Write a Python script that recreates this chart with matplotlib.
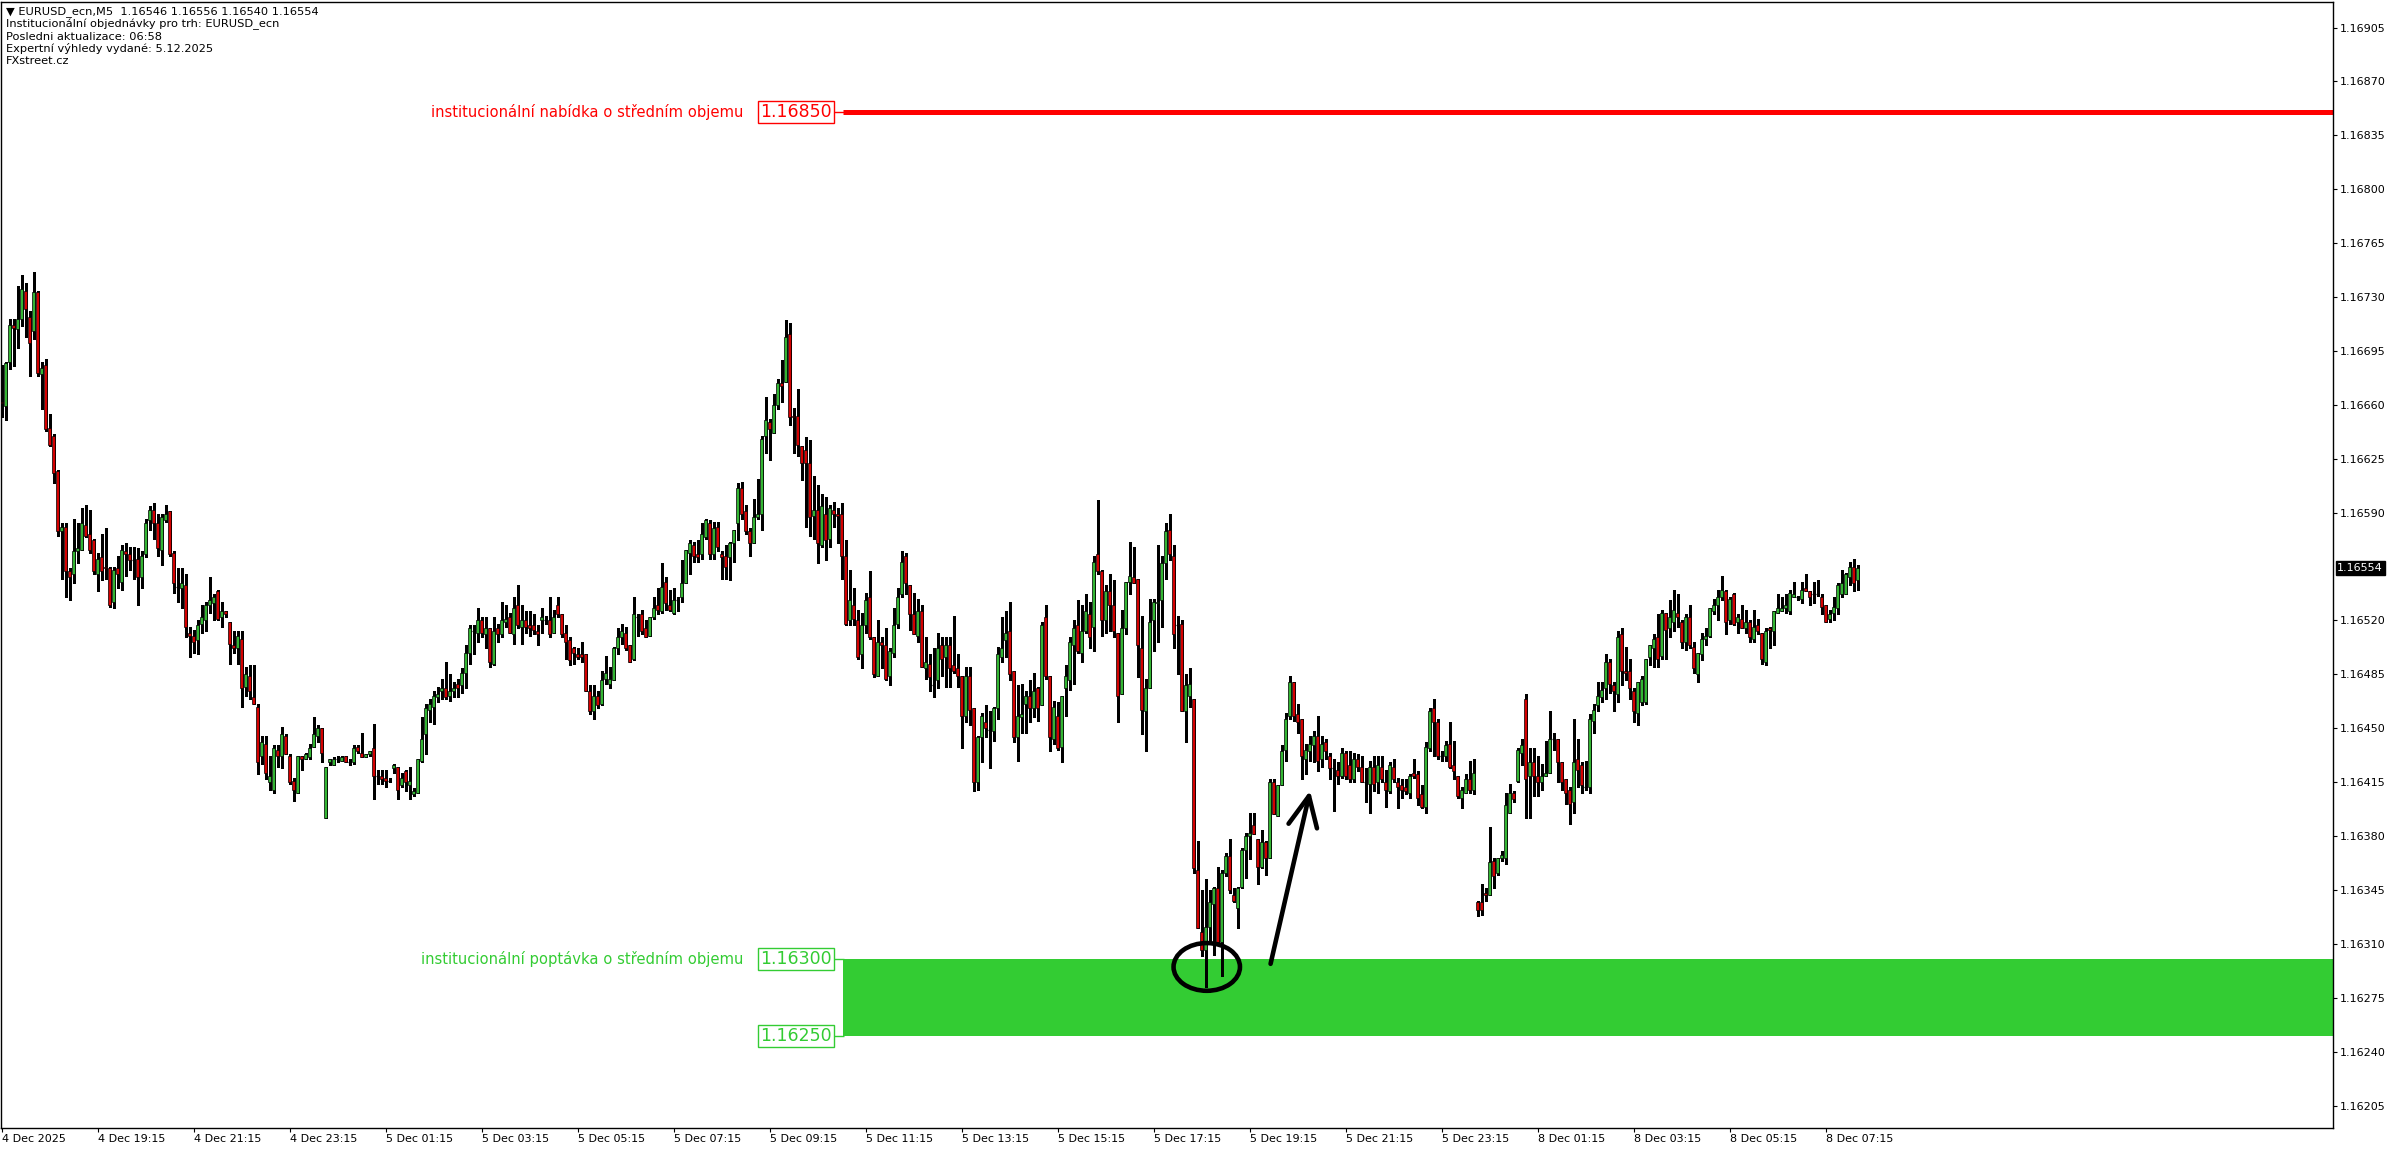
import numpy as np
import matplotlib.pyplot as plt
from matplotlib.patches import Ellipse, Rectangle

# EURUSD_ecn M5 candles, (open, high, low, close) in points above 1.16000
# 4 Dec 17:15 - 23:55
dec4_evening = [
    (662, 686, 652, 661), (659, 688, 650, 687), (688, 716, 683, 712), (712, 716, 685, 710),
    (709, 737, 697, 716), (716, 744, 711, 735), (734, 739, 704, 722), (717, 721, 679, 700),
    (708, 746, 703, 733), (733, 734, 679, 681), (680, 688, 657, 684), (686, 690, 643, 644),
    (645, 654, 633, 634), (640, 641, 609, 616), (617, 618, 575, 578), (578, 583, 547, 581),
    (581, 583, 535, 552), (552, 554, 533, 548), (550, 586, 544, 565), (565, 583, 557, 567),
    (566, 593, 566, 583), (582, 595, 574, 575), (576, 592, 564, 566), (572, 573, 550, 552),
    (550, 564, 539, 560), (561, 576, 546, 552), (555, 580, 547, 554), (554, 555, 529, 530),
    (532, 555, 528, 553), (554, 562, 541, 550), (545, 569, 540, 566), (565, 570, 549, 563),
    (563, 568, 553, 559), (559, 568, 547, 559), (560, 567, 530, 548), (548, 565, 541, 562),
    (563, 586, 561, 583), (585, 594, 579, 592), (592, 596, 573, 583), (583, 589, 562, 567),
    (566, 589, 556, 587), (585, 595, 584, 589), (591, 591, 562, 563), (564, 565, 538, 544),
    (542, 554, 532, 542), (541, 554, 528, 544), (543, 550, 509, 516), (512, 516, 496, 510),
    (510, 514, 499, 506), (507, 520, 498, 517), (518, 530, 512, 522), (520, 532, 513, 530),
    (530, 548, 525, 533), (531, 537, 520, 535), (539, 540, 520, 521), (522, 532, 516, 526),
    (526, 526, 522, 524), (519, 519, 492, 505), (504, 513, 499, 502), (502, 513, 492, 510),
    (508, 513, 464, 476), (477, 490, 471, 485), (484, 491, 469, 474), (470, 491, 466, 466),
    (464, 466, 420, 428), (432, 445, 427, 441), (440, 445, 417, 421), (415, 432, 410, 419),
    (410, 439, 408, 437), (436, 439, 425, 432), (432, 451, 424, 446), (445, 446, 433, 433),
    (432, 433, 414, 415), (416, 418, 403, 410), (408, 432, 408, 432), (432, 432, 423, 430),
    (430, 434, 430, 433), (431, 440, 430, 437), (438, 457, 438, 446), (445, 452, 441, 450),
    (450, 450, 428, 434),
]

# 5 Dec 00:00 - 07:55
dec5_asia = [
    (392, 425, 392, 425), (428, 430, 426, 430), (426, 431, 426, 430), (430, 432, 428, 430),
    (429, 432, 429, 431), (432, 432, 428, 428), (428, 430, 426, 428), (428, 439, 427, 437),
    (438, 439, 434, 435), (434, 447, 431, 431), (431, 433, 431, 433), (433, 435, 432, 435),
    (437, 453, 404, 419), (419, 423, 414, 419), (419, 423, 414, 417), (418, 423, 412, 416),
    (416, 418, 415, 416), (424, 427, 421, 426), (425, 425, 404, 410), (413, 421, 412, 418),
    (422, 423, 409, 415), (413, 425, 404, 416), (407, 411, 406, 409), (408, 430, 408, 430),
    (429, 457, 428, 443), (446, 466, 433, 463), (462, 469, 454, 466), (464, 474, 453, 471),
    (470, 477, 467, 472), (474, 482, 469, 476), (476, 493, 469, 470), (471, 485, 468, 474),
    (474, 480, 470, 476), (479, 482, 470, 476), (478, 489, 473, 486), (486, 504, 476, 499),
    (499, 517, 492, 515), (513, 517, 498, 513), (512, 528, 506, 520), (520, 522, 509, 512),
    (511, 522, 502, 515), (515, 515, 490, 493), (492, 522, 491, 513), (515, 518, 506, 511),
    (511, 532, 509, 520), (519, 530, 516, 521), (522, 525, 512, 512), (511, 535, 505, 528),
    (530, 543, 515, 517), (516, 530, 505, 520), (520, 526, 512, 516), (517, 526, 510, 515),
    (517, 524, 511, 514), (513, 517, 504, 511), (520, 528, 512, 522), (520, 523, 518, 520),
    (520, 535, 509, 511), (512, 527, 512, 522), (530, 535, 522, 524), (524, 524, 509, 511),
    (512, 517, 495, 506), (507, 509, 491, 494), (502, 503, 492, 499), (498, 502, 495, 496),
    (498, 506, 493, 496), (498, 498, 474, 474), (474, 478, 459, 461), (461, 478, 456, 471),
    (471, 474, 463, 465), (466, 487, 465, 481), (482, 497, 479, 486), (479, 490, 476, 482),
    (481, 503, 481, 502), (502, 515, 498, 509), (509, 518, 505, 513), (512, 516, 501, 502),
    (504, 504, 493, 493), (495, 535, 494, 524), (522, 524, 510, 522), (524, 527, 511, 513),
    (515, 520, 509, 509), (510, 522, 510, 522), (522, 535, 521, 528), (530, 541, 524, 527),
    (526, 557, 525, 542), (545, 548, 527, 531), (530, 540, 526, 527), (525, 541, 524, 533),
    (533, 535, 526, 533), (535, 559, 532, 544), (544, 566, 544, 566), (564, 572, 550, 570),
    (569, 571, 558, 562), (563, 572, 558, 561), (563, 583, 560, 576), (574, 586, 573, 585),
]

# 5 Dec 08:00 - 23:55
dec5_day = [
    (583, 585, 560, 563), (563, 584, 560, 580), (581, 584, 565, 568), (563, 565, 547, 561),
    (562, 569, 547, 555), (561, 571, 546, 570), (570, 579, 558, 579), (583, 609, 572, 606),
    (606, 610, 586, 589), (591, 595, 576, 578), (578, 580, 562, 570), (570, 599, 570, 587),
    (587, 612, 586, 589), (589, 640, 579, 638), (640, 665, 629, 650), (649, 651, 624, 644),
    (642, 667, 642, 660), (660, 677, 657, 674), (674, 689, 662, 672), (675, 715, 675, 704),
    (706, 713, 647, 652), (653, 658, 629, 652), (653, 670, 627, 634), (633, 633, 611, 622),
    (631, 639, 581, 622), (622, 637, 575, 587), (588, 614, 573, 592), (592, 608, 557, 570),
    (569, 602, 568, 594), (589, 600, 559, 572), (573, 595, 568, 593), (592, 597, 581, 589),
    (589, 593, 570, 588), (589, 596, 547, 562), (562, 572, 517, 518), (520, 553, 517, 533),
    (530, 541, 517, 521), (520, 527, 495, 496), (498, 525, 489, 517), (517, 538, 512, 533),
    (535, 552, 508, 509), (509, 509, 483, 485), (484, 520, 484, 506), (506, 509, 489, 504),
    (504, 515, 481, 482), (484, 502, 478, 500), (499, 528, 496, 517), (518, 541, 515, 535),
    (537, 565, 535, 558), (562, 564, 537, 544), (543, 543, 514, 524), (524, 538, 511, 511),
    (510, 534, 506, 526), (526, 530, 490, 490), (489, 509, 482, 493), (492, 498, 474, 483),
    (478, 502, 470, 478), (481, 512, 476, 502), (504, 509, 484, 495), (496, 509, 477, 504),
    (504, 509, 477, 489), (491, 523, 486, 487), (489, 498, 477, 484), (484, 484, 437, 458),
    (458, 490, 454, 484), (484, 490, 452, 462), (463, 463, 409, 415), (415, 445, 410, 444),
    (444, 460, 428, 458), (454, 465, 444, 450), (449, 461, 424, 449), (448, 464, 442, 463),
    (463, 503, 456, 498), (496, 522, 493, 502), (507, 526, 496, 512), (513, 532, 481, 485),
    (487, 487, 441, 444), (444, 478, 429, 458), (457, 479, 447, 459), (466, 474, 447, 471),
    (471, 481, 454, 463), (463, 486, 457, 474), (476, 477, 455, 463), (465, 519, 465, 517),
    (522, 530, 482, 484), (484, 484, 435, 444), (443, 468, 440, 464), (458, 467, 436, 437),
    (438, 471, 428, 471), (476, 491, 458, 484), (481, 509, 475, 506), (504, 520, 479, 515),
    (517, 533, 499, 500), (499, 530, 493, 513), (513, 537, 512, 526), (524, 532, 502, 509),
    (516, 562, 500, 558), (563, 598, 550, 552), (552, 553, 510, 520), (520, 543, 512, 539),
    (539, 550, 513, 530), (530, 546, 509, 513), (512, 512, 454, 471), (472, 527, 472, 515),
    (515, 545, 511, 545), (545, 571, 537, 549), (548, 568, 544, 544), (547, 547, 483, 504),
    (502, 523, 446, 462), (461, 482, 435, 476), (476, 534, 476, 519), (520, 534, 500, 532),
    (531, 569, 506, 532), (533, 562, 516, 557), (557, 583, 547, 578), (579, 589, 559, 563),
    (562, 569, 502, 511), (517, 523, 485, 517), (518, 520, 461, 461), (461, 485, 441, 478),
    (471, 489, 464, 479), (469, 469, 356, 359), (358, 377, 320, 320), (318, 345, 302, 306),
    (306, 352, 282, 321), (321, 345, 310, 337), (336, 347, 303, 346), (346, 360, 310, 311),
    (311, 358, 289, 356), (356, 369, 354, 367), (367, 378, 343, 345), (342, 346, 337, 338),
    (333, 347, 320, 346), (347, 372, 346, 371), (371, 382, 353, 380), (380, 395, 365, 382),
    (387, 395, 381, 381), (378, 378, 349, 360), (360, 384, 359, 376), (376, 377, 355, 366),
    (366, 417, 366, 415), (415, 417, 394, 394), (393, 413, 393, 413), (413, 439, 413, 435),
    (436, 460, 429, 456), (458, 484, 456, 480), (480, 480, 455, 458), (459, 466, 447, 454),
    (456, 456, 417, 432), (430, 440, 420, 436), (435, 445, 429, 440), (439, 448, 428, 445),
    (445, 458, 422, 429), (430, 445, 425, 440), (441, 443, 430, 435), (432, 434, 417, 424),
    (424, 430, 396, 424), (423, 428, 414, 419), (419, 437, 418, 434), (434, 435, 417, 419),
    (426, 435, 415, 417), (417, 434, 415, 430), (430, 433, 422, 425), (425, 432, 415, 415),
    (415, 424, 402, 415), (414, 429, 395, 425), (425, 432, 409, 414), (415, 432, 408, 426),
    (425, 432, 415, 417), (415, 423, 399, 410), (409, 428, 408, 426), (425, 430, 415, 417),
    (415, 418, 398, 412), (413, 417, 405, 410), (412, 417, 407, 409), (408, 420, 405, 419),
    (421, 430, 418, 419), (420, 422, 400, 405), (407, 413, 398, 399), (399, 441, 395, 438),
    (437, 463, 435, 461), (463, 469, 432, 454), (454, 456, 430, 432), (432, 435, 429, 432),
    (432, 442, 429, 439), (440, 454, 424, 425), (426, 442, 417, 422), (419, 419, 405, 406),
    (405, 412, 398, 410), (408, 420, 408, 417), (417, 429, 408, 410), (410, 430, 407, 421),
]

# 8 Dec 00:00 - 07:55
dec8_morning = [
    (337, 338, 328, 332), (337, 349, 329, 332), (343, 346, 338, 342), (342, 386, 342, 363),
    (364, 366, 346, 354), (356, 366, 355, 366), (366, 370, 364, 368), (366, 408, 362, 400),
    (395, 414, 395, 408), (408, 409, 402, 404), (416, 437, 415, 436), (434, 443, 426, 439),
    (469, 472, 392, 417), (419, 437, 392, 428), (428, 437, 406, 419), (419, 432, 406, 415),
    (415, 427, 410, 419), (419, 442, 419, 421), (421, 461, 421, 443), (443, 447, 436, 443),
    (443, 443, 415, 428), (428, 428, 410, 415), (417, 417, 401, 408), (410, 412, 388, 401),
    (402, 456, 395, 428), (430, 443, 412, 423), (426, 428, 408, 413), (412, 429, 410, 412),
    (412, 459, 408, 456), (455, 466, 447, 462), (465, 480, 461, 471), (470, 480, 467, 475),
    (476, 498, 469, 493), (493, 495, 473, 479), (478, 480, 461, 474), (472, 513, 467, 509),
    (511, 515, 478, 487), (487, 503, 481, 486), (487, 495, 469, 476), (474, 476, 454, 461),
    (460, 480, 452, 480), (467, 484, 465, 482), (467, 495, 466, 495), (496, 504, 491, 504),
    (502, 511, 490, 508), (509, 524, 490, 495), (497, 527, 495, 525), (525, 525, 495, 514),
    (515, 533, 509, 522), (519, 540, 513, 527), (525, 537, 516, 522), (519, 520, 502, 506),
    (506, 524, 501, 522), (522, 530, 502, 504), (503, 506, 486, 489), (485, 499, 480, 499),
    (498, 512, 494, 508), (508, 515, 504, 510), (510, 528, 509, 528), (526, 534, 524, 530),
    (530, 540, 520, 535), (535, 549, 533, 540), (539, 540, 511, 519), (520, 535, 518, 534),
    (537, 538, 517, 518), (519, 524, 512, 522), (521, 530, 515, 515), (515, 527, 512, 519),
    (519, 520, 506, 509), (508, 527, 506, 516), (517, 521, 511, 513), (512, 512, 492, 495),
    (493, 515, 491, 513), (515, 516, 502, 514), (513, 526, 504, 526), (525, 537, 525, 528),
    (526, 535, 526, 528), (528, 537, 525, 530), (526, 540, 524, 538), (535, 545, 535, 537),
    (535, 536, 533, 535), (534, 545, 531, 540), (541, 550, 539, 539), (539, 539, 530, 535),
    (537, 545, 531, 537), (537, 546, 536, 537), (535, 537, 524, 529), (530, 530, 519, 519),
    (521, 527, 519, 524), (525, 535, 520, 529), (528, 544, 524, 543), (537, 553, 535, 544),
    (537, 551, 537, 550), (548, 558, 543, 555), (555, 560, 539, 544), (546, 556, 540, 554),
]

supply_level = 1.16850
demand_top = 1.16300
demand_bottom = 1.16250
last_price = 1.16554

y_ticks = [1.16205, 1.16240, 1.16275, 1.16310, 1.16345, 1.16380, 1.16415, 1.16450,
           1.16485, 1.16520, 1.16590, 1.16625, 1.16660, 1.16695, 1.16730, 1.16765,
           1.16800, 1.16835, 1.16870, 1.16905]
x_tick_labels = ['4 Dec 2025', '4 Dec 19:15', '4 Dec 21:15', '4 Dec 23:15',
                 '5 Dec 01:15', '5 Dec 03:15', '5 Dec 05:15', '5 Dec 07:15',
                 '5 Dec 09:15', '5 Dec 11:15', '5 Dec 13:15', '5 Dec 15:15',
                 '5 Dec 17:15', '5 Dec 19:15', '5 Dec 21:15', '5 Dec 23:15',
                 '8 Dec 01:15', '8 Dec 03:15', '8 Dec 05:15', '8 Dec 07:15']

header_lines = ['\u25bc EURUSD_ecn,M5  1.16546 1.16556 1.16540 1.16554',
                'Institucionální objednávky pro trh: EURUSD_ecn',
                'Posledni aktualizace: 06:58',
                'Expertní výhledy vydané: 5.12.2025',
                'FXstreet.cz']

bull_color = '#33b533'
bear_color = '#d40000'
zone_green = '#33cc33'

plt.rcParams['font.family'] = ['DejaVu Sans']

W, H = 2396, 1154
fig = plt.figure(figsize=(W / 100, H / 100), dpi=100)
ax = fig.add_axes([0.5 / W, 1 - 1128 / H, 2332.5 / W, 1126 / H])

bars = np.array(dec4_evening + dec5_asia + dec5_day + dec8_morning, dtype=float)
o, h, l, c = (1.16 + bars.T / 1e5)
x = np.arange(len(bars))

# demand zone under the candles
ax.add_patch(Rectangle((210.25, demand_bottom), 600, demand_top - demand_bottom,
                       facecolor=zone_green, edgecolor='none', zorder=1))

# candles
ax.vlines(x, l, h, color='black', lw=0.75, zorder=3, antialiased=False)
up = c > o
down = c < o
flat = c == o
ax.bar(x[up], (c - o)[up], bottom=o[up], width=0.7, color=bull_color,
       edgecolor='black', linewidth=0.5, zorder=4)
ax.bar(x[down], (o - c)[down], bottom=c[down], width=0.7, color=bear_color,
       edgecolor='black', linewidth=0.5, zorder=4)
ax.hlines(o[flat], x[flat] - 0.4, x[flat] + 0.4, color='black', lw=0.9, zorder=4)

# supply level
ax.hlines(supply_level, 210.25, 600, color='#ff0000', lw=3.6, zorder=2)
ax.hlines(supply_level, 208.0, 210.5, color='#ff0000', lw=1.0, zorder=2)
ax.text(185.5, supply_level, 'institucionální nabídka o středním objemu', color='#ff0000',
        fontsize=10.6, ha='right', va='center')
ax.text(198.6, supply_level, f'{supply_level:.5f}', color='#ff0000', fontsize=12.5,
        ha='center', va='center',
        bbox=dict(boxstyle='square,pad=0.12', fc='white', ec='#ff0000', lw=1.0))

# demand zone labels
ax.text(185.5, demand_top, 'institucionální poptávka o středním objemu', color=zone_green,
        fontsize=10.6, ha='right', va='center')
for lvl in (demand_top, demand_bottom):
    ax.hlines(lvl, 208.0, 210.5, color=zone_green, lw=1.0, zorder=2)
    ax.text(198.6, lvl, f'{lvl:.5f}', color=zone_green, fontsize=12.5,
            ha='center', va='center',
            bbox=dict(boxstyle='square,pad=0.12', fc='white', ec=zone_green, lw=1.0))

# hand drawn circle and arrow
ax.add_patch(Ellipse((301.25, 1.16295), 16.6, 0.00031, fill=False, ec='black',
                     lw=3.3, zorder=5))
ax.plot([317.2, 326.8], [1.16297, 1.16406], color='black', lw=3.3,
        solid_capstyle='round', zorder=5)
ax.plot([321.7, 326.8, 328.8], [1.16388, 1.16406, 1.16385], color='black', lw=3.3,
        solid_capstyle='round', solid_joinstyle='round', zorder=5)

ax.set_xlim(-0.25, 582.75)
ax.set_ylim(1.161904, 1.169216)

ax.yaxis.tick_right()
ax.set_yticks(y_ticks)
ax.set_yticklabels([f'{v:.5f}' for v in y_ticks])
ax.set_xticks(range(0, 24 * len(x_tick_labels), 24))
ax.set_xticklabels(x_tick_labels, ha='left')
ax.tick_params(axis='y', length=3, width=0.8, pad=2, labelsize=8)
ax.tick_params(axis='x', length=3, width=0.8, pad=1.5, labelsize=8)
for s in ax.spines.values():
    s.set_linewidth(1.0)

ax.annotate(f'{last_price:.5f}', xy=(1.0, last_price), xycoords=('axes fraction', 'data'),
            xytext=(3, 0), textcoords='offset points', ha='left', va='center',
            color='white', fontsize=8,
            bbox=dict(boxstyle='square,pad=0.15', fc='black', ec='black'))

for i, line in enumerate(header_lines):
    fig.text(6 / W, 1 - (12 + 12.3 * i) / H, line, fontsize=8.2, va='center', ha='left')

fig.savefig('out.png', dpi=100, facecolor='white')
